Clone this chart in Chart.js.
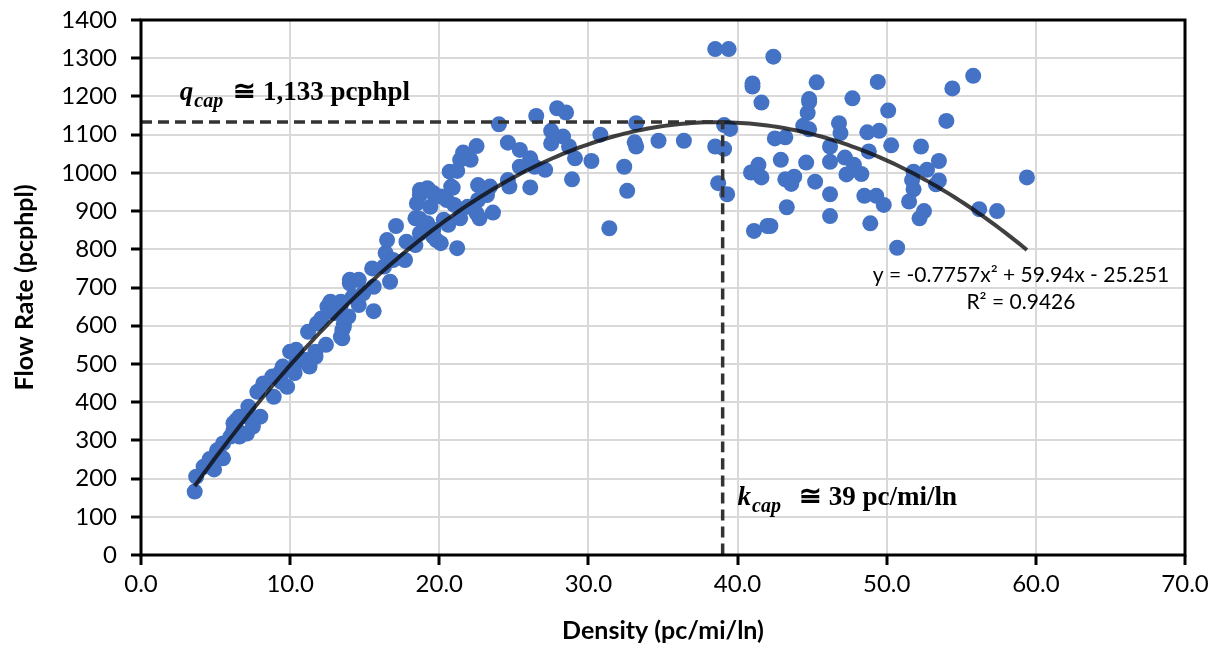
<!DOCTYPE html>
<html>
<head>
<meta charset="utf-8">
<script src="https://cdn.jsdelivr.net/npm/chart.js@4.4.1/dist/chart.umd.min.js"></script>
<style>
  html, body { margin: 0; padding: 0; background: #fff; }
  #wrap { width: 1217px; height: 646px; }
</style>
</head>
<body>
<div id="wrap"><canvas id="flow-chart" width="1217" height="646"></canvas></div>
<script>
// Free-flow observations (low density)
const densityFree = [3.6, 3.7, 4.2, 4.6, 4.9, 5.1, 5.5, 5.5, 6.0, 6.2, 6.2, 6.4, 6.4, 6.6, 6.6, 7.1, 7.1, 7.2, 7.5, 7.8,
    8.0, 8.2, 8.8, 8.9, 9.3, 9.4, 9.5, 9.5, 9.8, 10.0, 10.3, 10.4, 10.4, 10.9, 11.1, 11.3, 11.2, 11.7, 11.7, 11.8,
    12.1, 12.4, 12.5, 12.7, 13.0, 13.4, 13.4, 13.4, 13.5, 13.6, 13.6, 13.5, 13.9, 14.0, 14.0, 14.2, 14.6, 14.6, 14.9, 15.5,
    15.6, 15.6, 16.3, 16.4, 16.5, 16.7, 16.9, 17.1, 17.7, 17.8];
const flowFree = [166, 205, 231, 251, 224, 274, 292, 253, 310, 327, 345, 353, 330, 362, 310, 362, 318, 388, 336, 427,
    362, 449, 467, 414, 476, 453, 493, 480, 440, 532, 476, 537, 502, 510, 510, 493, 584, 519, 532, 606,
    619, 550, 650, 663, 633, 654, 663, 571, 589, 606, 597, 567, 624, 711, 720, 676, 720, 654, 685, 750,
    702, 638, 755, 790, 824, 715, 772, 861, 772, 820];

// Observations around capacity
const densityNear = [18.4, 18.4, 18.5, 18.7, 18.7, 18.7, 18.7, 19.2, 19.6, 20.8, 19.4, 20.5, 19.2, 20.3, 19.6, 20.1, 21.2,
    19.3, 20.1, 20.9, 21.0, 21.9, 22.5, 23.6, 22.7, 21.4, 20.6, 19.6, 19.8, 20.7, 21.2, 21.6, 21.4, 22.1, 22.5, 22.6,
    23.4, 22.6, 23.2, 24.0, 24.6, 25.4, 26.1, 25.4, 26.4, 27.1, 24.6, 24.7, 26.1, 26.5, 27.5, 27.9, 28.5, 28.3, 27.5,
    28.7, 29.1, 28.9, 30.2, 30.8, 31.4, 32.4, 32.6, 33.2, 33.1, 33.2, 34.7, 36.4];
const flowNear = [811, 881, 920, 942, 955, 879, 842, 960, 947, 964, 911, 929, 868, 877, 833, 816, 803,
    955, 938, 961, 916, 911, 894, 896, 881, 881, 864, 851, 824, 1003, 1005, 1053, 1034, 1034, 1070, 968,
    964, 929, 942, 1127, 1079, 1060, 1038, 1016, 1016, 1008, 981, 964, 962, 1149, 1110, 1169, 1158, 1095, 1077,
    1069, 1038, 983, 1031, 1100, 855, 1016, 953, 1130, 1080, 1069, 1084, 1084];

// Congested observations (high density)
const densityCongested = [38.5, 39.4, 42.4, 41.0, 41.0, 41.6, 45.3, 44.8, 44.8, 44.7, 47.7, 49.4, 50.1, 44.4, 44.8,
    42.5, 43.2, 46.8, 46.9, 46.2, 48.7, 49.5, 50.3, 52.3, 54.0, 54.4, 55.8, 42.9, 44.6, 46.2, 47.2, 47.8, 48.8, 48.3, 47.3,
    43.2, 43.8, 43.6, 45.2, 46.2, 48.5, 49.3, 49.8, 51.8, 51.7, 51.8, 52.7, 53.5, 53.5, 53.3, 51.5, 52.5, 52.2, 43.3, 46.2,
    48.9, 42.2, 50.7, 39.1, 39.5, 38.5, 39.1, 38.7, 39.3, 40.9, 41.4, 41.6, 41.1, 42.0, 59.4, 56.2, 57.4];
const flowCongested = [1324, 1324, 1304, 1234, 1226, 1184, 1237, 1193, 1186, 1157, 1195, 1238, 1163, 1123, 1114,
    1090, 1093, 1130, 1104, 1069, 1106, 1110, 1072, 1069, 1136, 1221, 1254, 1034, 1027, 1029, 1040, 1021, 1056, 997, 996,
    983, 990, 971, 977, 944, 940, 940, 916, 1003, 981, 957, 1008, 1031, 980, 970, 925, 900, 881, 910, 887,
    868, 861, 804, 1125, 1115, 1069, 1063, 973, 944, 1001, 1021, 988, 848, 861, 988, 905, 900];

const xTicks = [0, 10, 20, 30, 40, 50, 60, 70];
const yTicks = [0, 100, 200, 300, 400, 500, 600, 700, 800, 900, 1000, 1100, 1200, 1300, 1400];

// polynomial fit: a*x^2 + b*x + c
const trendCoef = [-0.7757, 59.94, -25.251];
const trendRange = [3.6, 59.4];
const fitLabel = 'y = -0.7757x\u00B2 + 59.94x - 25.251';
const r2Label = 'R\u00B2 = 0.9426';

const capFlow = 1133;
const capDensity = 39;

const toPoints = (xs, ys) => xs.map((x, i) => ({ x: x, y: ys[i] }));
const observations = [
    ...toPoints(densityFree, flowFree),
    ...toPoints(densityNear, flowNear),
    ...toPoints(densityCongested, flowCongested)
];

const trendPoints = [];
for (let x = trendRange[0]; x < trendRange[1]; x += 0.3) {
    trendPoints.push({ x: x, y: trendCoef[0] * x * x + trendCoef[1] * x + trendCoef[2] });
}
const xe = trendRange[1];
trendPoints.push({ x: xe, y: trendCoef[0] * xe * xe + trendCoef[1] * xe + trendCoef[2] });

const capacityGuide = [
    { x: 0, y: capFlow },
    { x: capDensity, y: capFlow },
    { x: capDensity, y: 0 }
];

const SERIF = '"Liberation Serif", "Times New Roman", serif';
const SANS = 'Lato, "Open Sans", sans-serif';

// draws  main + subscript + rest, e.g. q_cap ≅ 1,133 pcphpl
function drawCapLabel(ctx, x, y, main, sub, rest, gap) {
    ctx.fillStyle = '#000';
    ctx.textBaseline = 'alphabetic';
    ctx.textAlign = 'left';
    ctx.font = 'italic bold 27px ' + SERIF;
    ctx.fillText(main, x, y);
    x += ctx.measureText(main).width + 1;
    ctx.font = 'italic bold 20px ' + SERIF;
    ctx.fillText(sub, x, y + 7);
    x += ctx.measureText(sub).width + gap;
    ctx.font = 'bold 27px ' + SERIF;
    ctx.fillText(rest, x, y);
}

const annotationPlugin = {
    id: 'annotations',
    afterDraw(chart) {
        const { ctx, chartArea, scales } = chart;
        const xs = scales.x, ys = scales.y;
        ctx.save();

        // plot frame
        ctx.strokeStyle = '#000';
        ctx.lineWidth = 3;
        ctx.strokeRect(chartArea.left, chartArea.top, chartArea.right - chartArea.left, chartArea.bottom - chartArea.top);

        drawCapLabel(ctx, xs.getPixelForValue(2.6), ys.getPixelForValue(1190), 'q', 'cap', '\u2245 1,133 pcphpl', 10);
        drawCapLabel(ctx, xs.getPixelForValue(40.0), ys.getPixelForValue(130), 'k', 'cap', '\u2245 39 pc/mi/ln', 18);

        ctx.font = '21px ' + SANS;
        ctx.textAlign = 'center';
        ctx.fillStyle = '#000';
        ctx.fillText(fitLabel, xs.getPixelForValue(59.0), ys.getPixelForValue(714));
        ctx.fillText(r2Label, xs.getPixelForValue(59.0), ys.getPixelForValue(644));
        ctx.restore();
    }
};

const tickFont = { family: SANS, size: 24 };
const titleFont = { family: SANS, size: 25, weight: 'bold' };

new Chart(document.getElementById('flow-chart'), {
    type: 'scatter',
    data: {
        datasets: [
            {
                type: 'line',
                data: capacityGuide,
                borderColor: '#333333',
                borderWidth: 3.5,
                borderDash: [11, 6],
                pointRadius: 0,
                fill: false,
                order: 0
            },
            {
                type: 'line',
                data: trendPoints,
                borderColor: 'rgba(10, 10, 10, 0.78)',
                borderWidth: 4,
                pointRadius: 0,
                fill: false,
                tension: 0,
                order: 1
            },
            {
                data: observations,
                backgroundColor: '#4472C4',
                borderColor: '#4472C4',
                borderWidth: 0,
                pointRadius: 8,
                pointHoverRadius: 8,
                order: 2
            }
        ]
    },
    options: {
        responsive: false,
        animation: false,
        devicePixelRatio: 1,
        layout: { padding: { top: 20, right: 32, left: 0, bottom: 0 } },
        plugins: {
            legend: { display: false },
            tooltip: { enabled: false }
        },
        scales: {
            x: {
                type: 'linear',
                position: 'bottom',
                min: 0,
                max: 70,
                afterBuildTicks: s => { s.ticks = xTicks.map(v => ({ value: v })); },
                afterFit: s => { s.height = 91; s.paddingLeft = 0; s.paddingRight = 0; },
                ticks: {
                    color: '#000',
                    font: tickFont,
                    padding: 5,
                    maxRotation: 0,
                    callback: v => Number(v).toFixed(1)
                },
                grid: { color: '#d9d9d9', lineWidth: 2, tickColor: '#000', tickLength: 10, tickWidth: 3 },
                border: { display: false },
                title: {
                    display: true,
                    text: 'Density (pc/mi/ln)',
                    color: '#000',
                    font: titleFont,
                    padding: { top: 0, bottom: 0 }
                }
            },
            y: {
                type: 'linear',
                min: 0,
                max: 1400,
                afterBuildTicks: s => { s.ticks = yTicks.map(v => ({ value: v })); },
                afterFit: s => { s.width = 141; s.paddingTop = 0; s.paddingBottom = 0; },
                ticks: { color: '#000', font: tickFont, padding: 14, callback: v => String(v) },
                grid: { color: '#d9d9d9', lineWidth: 2, tickColor: '#000', tickLength: 10, tickWidth: 3 },
                border: { display: false },
                title: {
                    display: true,
                    text: 'Flow Rate (pcphpl)',
                    color: '#000',
                    font: titleFont,
                    padding: { top: 10, bottom: 0 }
                }
            }
        }
    },
    plugins: [annotationPlugin]
});
</script>
</body>
</html>
